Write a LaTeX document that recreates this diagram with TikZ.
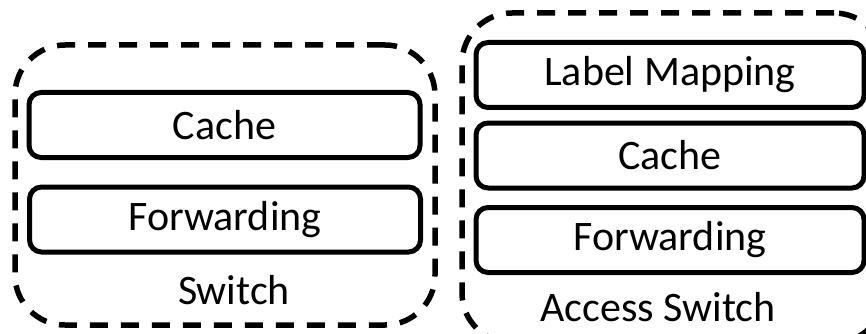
\documentclass[tikz,border=0pt]{standalone}
\usepackage{fontspec}
\setmainfont{Carlito}
\usetikzlibrary{positioning}

\begin{document}
\begin{tikzpicture} [x=1pt,y=-1pt,
            unit/.style={draw=black,line width=5pt,rectangle,rounded corners=12pt,minimum height=65pt,inner sep=0pt},
            box/.style={draw=black,line width=5.5pt,rectangle,rounded corners=50pt,dash pattern=on 18pt off 13pt},
         every node/.append style={align=center,font=\fontsize{42}{48}\selectfont}]
\useasboundingbox (0,0) rectangle (866,334);
\clip (0,0) rectangle (866,334);
% switch
\node (sw) at (225,185) [box,minimum width=420pt,minimum height=280pt] {}
node (swcache) at (224.5,125) [unit,minimum width=391pt] {Cache}
node (swfwd) at (225,219.5) [unit,minimum width=391pt] {Forwarding}
node (swlbl) at (234,290) {Switch}
 ;
% access switch
\node (acc) at (673,178) [box,minimum width=422pt,minimum height=330pt] {}
node (acclm) at (670,75) [unit,minimum width=388pt] {Label Mapping}
node (acccache) at (670,155.5) [unit,minimum width=388pt] {Cache}
node (accfwd) at (670,240) [unit,minimum width=388pt] {Forwarding}
node (acclbl) at (658,307) {Access Switch}
 ;
\end{tikzpicture}
\end{document}
